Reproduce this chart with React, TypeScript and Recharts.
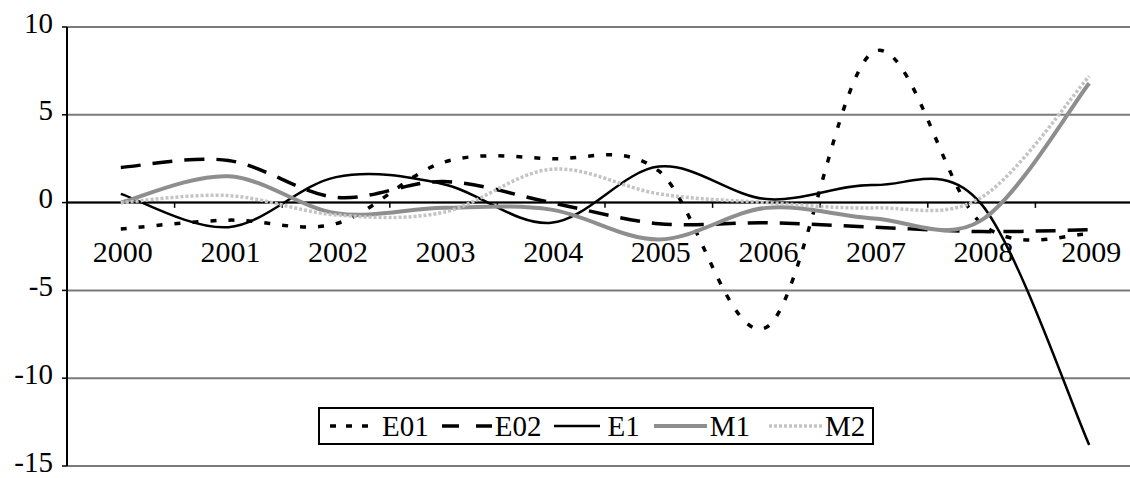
import React from 'react';
import { LineChart, Line, XAxis, YAxis, CartesianGrid, ReferenceLine, Legend } from 'recharts';

// ---- data ----
const years = [2000, 2001, 2002, 2003, 2004, 2005, 2006, 2007, 2008, 2009];
const E01 = [-1.5, -1.0, -1.2, 2.3, 2.5, 1.8, -7.1, 8.6, -1.2, -1.8];
const E02 = [2.0, 2.4, 0.3, 1.2, 0.0, -1.2, -1.15, -1.4, -1.65, -1.55];
const E1 = [0.5, -1.4, 1.45, 1.05, -1.15, 2.05, 0.2, 1.0, -0.1, -13.8];
const M1 = [0, 1.5, -0.6, -0.3, -0.4, -2.1, -0.3, -0.9, -1.0, 6.8];
const M2 = [0, 0.4, -0.7, -0.55, 1.9, 0.5, 0.0, -0.3, 0.3, 7.2];
const yTicks = [-15, -10, -5, 0, 5, 10];
const midTicks = [2000.5, 2001.5, 2002.5, 2003.5, 2004.5, 2005.5, 2006.5, 2007.5, 2008.5];

const data = years.map((year, i) => ({
  year,
  E01: E01[i],
  E02: E02[i],
  E1: E1[i],
  M1: M1[i],
  M2: M2[i],
}));

const FONT = '"Liberation Serif", "Times New Roman", serif';

const series = [
  { key: 'E01', stroke: '#000', width: 3.5, dash: '6 12', sample: '6 10', sw: 46, sg: 7, ig: 0 },
  { key: 'E02', stroke: '#000', width: 3.5, dash: '20 12', sample: '17 17', sw: 52, sg: 2, ig: 12 },
  { key: 'E1', stroke: '#000', width: 2.5, dash: undefined, sample: undefined, sw: 48, sg: 6, ig: 12 },
  { key: 'M1', stroke: '#8e8e8e', width: 4, dash: undefined, sample: undefined, sw: 55, sg: 2, ig: 13 },
  { key: 'M2', stroke: '#c4c4c4', width: 3.5, dash: '3 2', sample: '3 2', sw: 55, sg: 2, ig: 18 },
];

// Excel-like smoothed line (Catmull-Rom through points)
function smoothCurve(context: any) {
  let pts: number[][] = [];
  return {
    areaStart() {},
    areaEnd() {},
    lineStart() {
      pts = [];
    },
    lineEnd() {
      const n = pts.length;
      if (!n) return;
      context.moveTo(pts[0][0], pts[0][1]);
      for (let i = 0; i < n - 1; i++) {
        const p0 = pts[Math.max(0, i - 1)];
        const p1 = pts[i];
        const p2 = pts[i + 1];
        const p3 = pts[Math.min(n - 1, i + 2)];
        const c1x = p1[0] + (p2[0] - p0[0]) / 6;
        const c1y = p1[1] + (p2[1] - p0[1]) / 6;
        const c2x = p2[0] - (p3[0] - p1[0]) / 6;
        const c2y = p2[1] - (p3[1] - p1[1]) / 6;
        context.bezierCurveTo(c1x, c1y, c2x, c2y, p2[0], p2[1]);
      }
    },
    point(x: number, y: number) {
      pts.push([+x, +y]);
    },
  };
}

const MARGIN = { top: 27, right: 0, bottom: 11, left: 0 };
const X_AXIS_H = 1;
const CHART_H = 478;
const PLOT_H = CHART_H - MARGIN.top - MARGIN.bottom - X_AXIS_H;
const ZERO_Y = MARGIN.top + (10 / 25) * PLOT_H;
const LABEL_BASELINE = ZERO_Y + 59;

const XTick = (props: any) => {
  const { x, payload } = props;
  return (
    <text x={x + 2} y={LABEL_BASELINE} textAnchor="middle" fontFamily={FONT} fontSize={30} fill="#000">
      {payload.value}
    </text>
  );
};

const YTick = (props: any) => {
  const { x, y, payload } = props;
  return (
    <text x={x} y={y} dy={5.5} textAnchor="end" fontFamily={FONT} fontSize={29} fill="#000">
      {payload.value}
    </text>
  );
};

const renderLegend = () => (
  <div
    style={{
      display: 'inline-flex',
      alignItems: 'center',
      border: '2px solid #000',
      background: '#fff',
      height: 34,
      padding: '0 7px 0 9px',
      fontFamily: FONT,
      fontSize: 29,
      color: '#000',
      boxSizing: 'content-box',
      whiteSpace: 'nowrap',
    }}
  >
    {series.map((s) => (
      <div key={s.key} style={{ display: 'flex', alignItems: 'center', marginLeft: s.ig }}>
        <svg width={s.sw} height={12} style={{ display: 'block' }}>
          <line
            x1={1}
            y1={6}
            x2={s.sw - 1}
            y2={6}
            stroke={s.stroke}
            strokeWidth={s.width}
            strokeDasharray={s.sample}
          />
        </svg>
        <span style={{ marginLeft: s.sg, lineHeight: '34px' }}>{s.key}</span>
      </div>
    ))}
  </div>
);

export default function App() {
  return (
    <div style={{ width: 1130, height: 478, overflow: 'hidden', position: 'relative', background: '#fff' }}>
      <style>{'body{margin:0;}'}</style>
      <LineChart width={1143} height={CHART_H} data={data} margin={MARGIN}>
        <CartesianGrid vertical={false} stroke="#7a7a7a" strokeWidth={2} />
        <XAxis
          dataKey="year"
          type="number"
          domain={[1999.5, 2009.5]}
          ticks={years}
          interval={0}
          height={X_AXIS_H}
          axisLine={false}
          tickLine={false}
          tick={<XTick />}
        />
        <YAxis
          domain={[-15, 10]}
          ticks={yTicks}
          interval={0}
          width={67}
          axisLine={{ stroke: '#000', strokeWidth: 2 }}
          tickLine={{ stroke: '#000', strokeWidth: 1.5 }}
          tickSize={5}
          tickMargin={9}
          tick={<YTick />}
        />
        <ReferenceLine y={0} stroke="#000" strokeWidth={2} />
        {midTicks.map((m) => (
          <ReferenceLine
            key={m}
            segment={[
              { x: m, y: 0 },
              { x: m, y: -0.3 },
            ]}
            stroke="#000"
            strokeWidth={1.5}
          />
        ))}
        {series.map((s) => (
          <Line
            key={s.key}
            dataKey={s.key}
            type={smoothCurve as any}
            stroke={s.stroke}
            strokeWidth={s.width}
            strokeDasharray={s.dash}
            dot={false}
            activeDot={false}
            isAnimationActive={false}
          />
        ))}
        <Legend
          layout="horizontal"
          verticalAlign="middle"
          align="center"
          content={renderLegend}
          wrapperStyle={{ left: 318, top: 407, width: 'auto' }}
        />
      </LineChart>
    </div>
  );
}
